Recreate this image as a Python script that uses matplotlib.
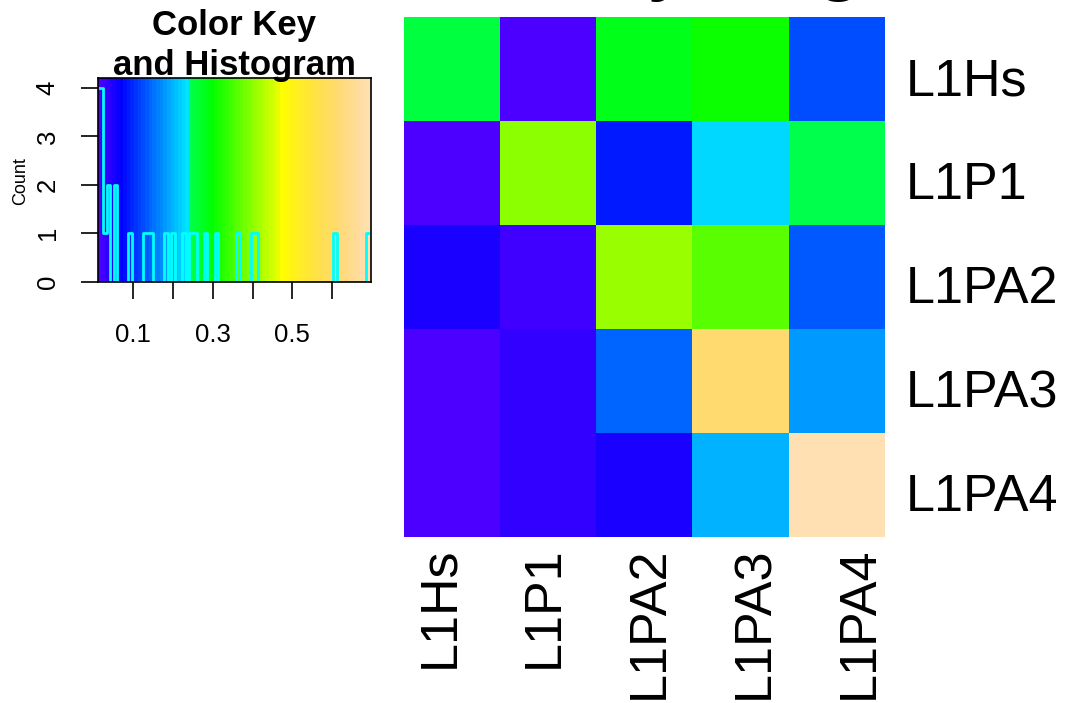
import colorsys
import numpy as np
import matplotlib
matplotlib.use("Agg")
import matplotlib.pyplot as plt
from matplotlib.colors import ListedColormap, BoundaryNorm

plt.rcParams['font.family'] = ['Liberation Sans', 'DejaVu Sans']

# ---------------- data ----------------
row_labels = ["L1Hs", "L1P1", "L1PA2", "L1PA3", "L1PA4"]
col_labels = ["L1Hs", "L1P1", "L1PA2", "L1PA3", "L1PA4"]
row_L1Hs = [0.255, 0.018, 0.282, 0.309, 0.128]
row_L1P1 = [0.020, 0.399, 0.092, 0.227, 0.246]
row_L1PA2 = [0.056, 0.029, 0.408, 0.363, 0.137]
row_L1PA3 = [0.017, 0.038, 0.146, 0.607, 0.182]
row_L1PA4 = [0.015, 0.037, 0.055, 0.200, 0.693]
key_ticks = [0.1, 0.2, 0.3, 0.4, 0.5, 0.6]
key_tick_labels = ["0.1", "", "0.3", "", "0.5", ""]
count_ticks = [0, 1, 2, 3, 4]
n_colors = 75
title_text = "L1 Identity Alignment"

M = np.array([row_L1Hs, row_L1P1, row_L1PA2, row_L1PA3, row_L1PA4])
values = M.ravel()


def topo_colors(n):
    j = n // 3
    k = n // 3
    i = n - j - k
    cols = [colorsys.hsv_to_rgb(h, 1, 1) for h in np.linspace(43 / 60, 31 / 60, i)]
    cols += [colorsys.hsv_to_rgb(h, 1, 1) for h in np.linspace(23 / 60, 11 / 60, j)]
    cols += [colorsys.hsv_to_rgb(h, s, 1) for h, s in
             zip(np.linspace(10 / 60, 6 / 60, k), np.linspace(1, 0.3, k))]
    return cols


cols = topo_colors(n_colors)
cmap = ListedColormap(cols)
cmap.set_over(cols[-1])
cmap.set_under(cols[0])
vmin, vmax = values.min(), values.max()
breaks = np.linspace(vmin, vmax, n_colors + 1)
norm = BoundaryNorm(breaks, n_colors)

# ---------------- layout ----------------
W, H = 1066, 703
fig = plt.figure(figsize=(W / 100, H / 100), dpi=100)


def rect(x0, y0, x1, y1):
    return [x0 / W, 1 - y1 / H, (x1 - x0) / W, (y1 - y0) / H]


# heatmap
ax_h = fig.add_axes(rect(404, 17, 885, 537))
ax_h.imshow(M, cmap=cmap, norm=norm, aspect='auto', interpolation='nearest')
ax_h.set_xlim(-0.5, len(col_labels) - 0.5)
ax_h.set_ylim(len(row_labels) - 0.5, -0.5)
for s in ax_h.spines.values():
    s.set_visible(False)
col_pos = np.arange(len(col_labels)) * 1.089 - 0.126
ax_h.set_xticks(col_pos)
ax_h.set_xticklabels(col_labels, rotation=90, va='top', ha='center', fontsize=37.5)
ax_h.tick_params(axis='x', length=0, pad=7)
ax_h.yaxis.tick_right()
ax_h.set_yticks(np.arange(len(row_labels)) + 0.07)
ax_h.set_yticklabels(row_labels, fontsize=37.5)
ax_h.tick_params(axis='y', length=0, pad=15)

# color key + histogram
ax_k = fig.add_axes(rect(97.7, 78.3, 371, 281.7))
half = 1 / (2 * (n_colors - 1))
edges = vmin + (vmax - vmin) * np.linspace(-half, 1 + half, n_colors + 1)
z = np.linspace(vmin, vmax, n_colors)
counts, _ = np.histogram(values, bins=breaks)
ytop = counts.max() * 1.05
ax_k.pcolormesh(edges, [0, ytop], z[np.newaxis, :], cmap=cmap, norm=norm)
ax_k.step(breaks, np.append(counts, counts[-1]), where='post', color='cyan', lw=2.0)
ax_k.set_xlim(edges[0], edges[-1])
ax_k.set_ylim(0, ytop)
ax_k.set_xticks(key_ticks)
ax_k.set_xticklabels(key_tick_labels)
ax_k.set_yticks(count_ticks)
ax_k.set_yticklabels([str(c) for c in count_ticks], rotation=90, va='center', ha='right')
ax_k.tick_params(length=12.5, width=1.2, pad=15, labelsize=18.5)
ax_k.tick_params(axis='x', pad=17)
for s in ax_k.spines.values():
    s.set_linewidth(1.2)

fig.text(21 / W, 1 - 181 / H, "Count", rotation=90, ha='center', va='center', fontsize=13)
fig.text(234.5 / W, 1 - 35 / H, "Color Key", ha='center', va='baseline',
         fontsize=25, fontweight='bold')
fig.text(234.5 / W, 1 - 75 / H, "and Histogram", ha='center', va='baseline',
         fontsize=25, fontweight='bold')
fig.text(277 / W, 1 + 17 / H, title_text, ha='left', va='baseline', fontsize=65)

fig.savefig("out.png", dpi=100)
